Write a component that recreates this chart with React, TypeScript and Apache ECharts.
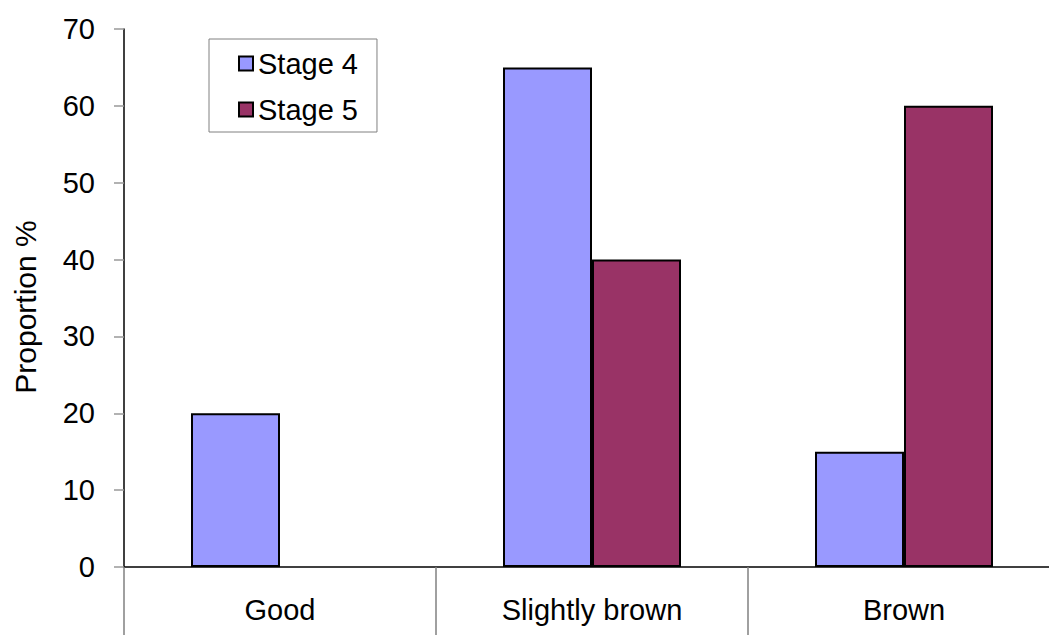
import React, { useEffect, useRef } from "react";
import * as echarts from "echarts";

const categories = ["Good", "Slightly brown", "Brown"];
const stage4 = [20, 65, 15];
const stage5 = [0, 40, 60];
const seriesNames = ["Stage 4", "Stage 5"];
const yTicks = { min: 0, max: 70, interval: 10 };

const FONT = "Liberation Sans, Arial, sans-serif";

export default function App() {
  const ref = useRef<HTMLDivElement>(null);
  useEffect(() => {
    if (!ref.current) return;
    const chart = echarts.init(ref.current, null, { renderer: "svg" });
    chart.setOption({
      animation: false,
      backgroundColor: "#ffffff",
      textStyle: { fontFamily: FONT },
      grid: { left: 124, top: 29, bottom: 68, right: 0 },
      legend: {
        orient: "vertical",
        left: 209,
        top: 39,
        padding: [10, 19, 8, 29],
        itemGap: 17,
        itemWidth: 14,
        itemHeight: 14,
        borderColor: "#808080",
        borderWidth: 1,
        icon: "rect",
        textStyle: { fontSize: 29, color: "#000", fontFamily: FONT },
        data: seriesNames,
      },
      graphic: [
        {
          type: "text",
          x: 25,
          y: 307,
          rotation: Math.PI / 2,
          style: {
            text: "Proportion %",
            font: `30px ${FONT}`,
            fill: "#000",
            align: "center",
            verticalAlign: "middle",
          },
        },
      ],
      xAxis: {
        type: "category",
        data: categories,
        axisLine: { lineStyle: { color: "#000", width: 1.5 } },
        axisTick: { show: true, length: 70, lineStyle: { color: "#808080", width: 1.5 } },
        axisLabel: { fontSize: 29, color: "#000", margin: 28, fontFamily: FONT },
      },
      yAxis: {
        type: "value",
        min: yTicks.min,
        max: yTicks.max,
        interval: yTicks.interval,
        splitLine: { show: false },
        axisLine: { show: true, lineStyle: { color: "#000", width: 1.5 } },
        axisTick: { show: true, length: 10, lineStyle: { color: "#999", width: 1.5 } },
        axisLabel: { fontSize: 29, color: "#000", margin: 29, fontFamily: FONT },
      },
      series: [
        {
          name: seriesNames[0],
          type: "bar",
          data: stage4,
          barWidth: 89,
          barGap: "0%",
          itemStyle: { color: "#9999FF", borderColor: "#000", borderWidth: 2 },
        },
        {
          name: seriesNames[1],
          type: "bar",
          data: stage5.map((v) => (v === 0 ? null : v)),
          barWidth: 89,
          barGap: "0%",
          itemStyle: { color: "#993366", borderColor: "#000", borderWidth: 2 },
        },
      ],
    });
    return () => chart.dispose();
  }, []);
  return (
    <div style={{ position: "fixed", left: 0, top: 0, width: 1049, height: 635, overflow: "hidden", background: "#fff" }}>
      <div ref={ref} style={{ width: 1060, height: 635 }} />
    </div>
  );
}
